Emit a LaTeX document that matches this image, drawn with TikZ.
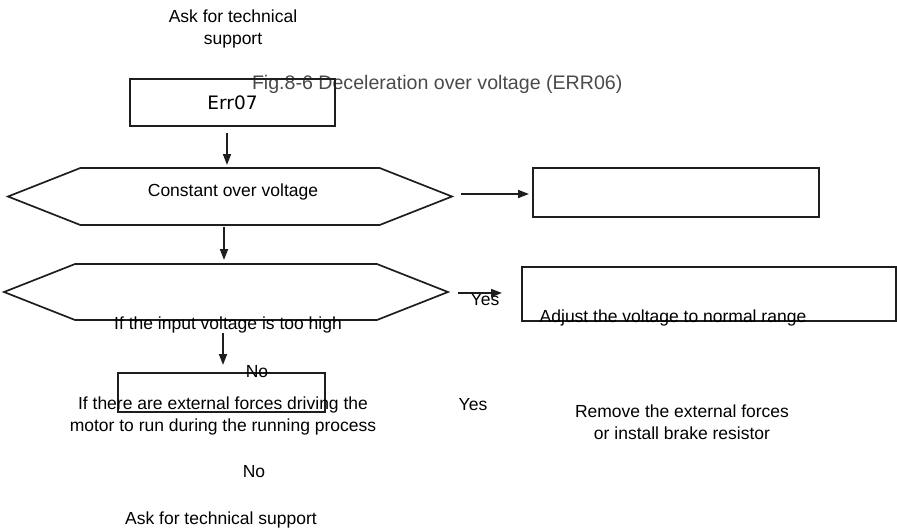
\documentclass[tikz,border=0pt]{standalone}
\usepackage{fontspec}
\setmainfont{Liberation Sans}
\newfontfamily\errfont{DejaVu Sans}
\usetikzlibrary{arrows.meta, positioning, shapes.symbols}
\definecolor{FigGray}{HTML}{4A4A4A}
\definecolor{LineDark}{HTML}{1E1E1E}

\begin{document}
\begin{tikzpicture}[x=1pt, y=-1pt, >={Triangle[length=11pt,width=8pt]},
    line width=1.7pt, draw=LineDark,
    every node/.style={font=\fontsize{17.5}{22}\selectfont, inner sep=0pt, outer sep=0pt},
    chkbox/.style={draw=LineDark, rectangle},
    testhex/.style={draw=LineDark, signal, signal to=west and east,
                    signal pointer angle=43},
    flow/.style={->, LineDark}]
  \useasboundingbox (0,0) rectangle (897,531);

  % texts outside the boxes
  \node[align=center] (askA) at (233,29) {Ask for technical\\support};
  \node[anchor=west, text=FigGray, font=\fontsize{19.6}{24}\selectfont] (fig) at (252,84)
    {Fig.8-6 Deceleration over voltage (ERR06)};

  % boxes and tests
  \node[chkbox, minimum width=205pt, minimum height=47pt,
        font=\errfont\fontsize{18.5}{22}\selectfont] (err) at (232.5,102.5) {Err07};
  \node[testhex, minimum width=444pt, minimum height=57pt] (hexA) at (230,196.5) {};
  \node (const) at (233,192) {Constant over voltage};
  \node[testhex, minimum width=444pt, minimum height=56pt] (hexB) at (226,292) {};
  \node[chkbox, minimum width=286pt, minimum height=49pt] (boxA) at (676,192.5) {};
  \node[chkbox, minimum width=374pt, minimum height=54pt] (boxB) at (709,294) {};
  \node[chkbox, minimum width=207pt, minimum height=39pt] (boxC) at (221.5,392.5) {};

  \node (adjust) at (673,318) {Adjust the voltage to normal range};
  \node (yesA) at (485,300) {Yes};
  \node (inputq) at (228,325) {If the input voltage is too high};
  \node (noA) at (257,372) {No};
  \node[align=center] (forceq) at (223,416)
    {If there are external forces driving the\\motor to run during the running process};
  \node (yesB) at (473,405) {Yes};
  \node[align=center] (remove) at (682,422)
    {Remove the external forces\\or install brake resistor};
  \node (noB) at (254,472) {No};
  \node (askB) at (221,520) {Ask for technical support};

  % connectors
  \draw[flow, shorten <=7pt, shorten >=3pt] ([xshift=-5.5pt]err.south) -- ([xshift=-3pt]hexA.north);
  \draw[flow, shorten <=2pt, shorten >=4pt] ([xshift=-6pt]hexA.south) -- ([xshift=-2pt]hexB.north);
  \draw[flow, shorten <=9pt, shorten >=4pt] ([yshift=2.5pt]hexA.east) -- ([yshift=2.5pt]hexA.east -| boxA.west);
  \draw[flow, shorten <=10pt, shorten >=20pt] ([yshift=-1pt]hexB.east) -- ([yshift=-1pt]hexB.east -| boxB.west);
  \draw[flow, shorten <=13pt, shorten >=8pt] ([xshift=-3pt]hexB.south) -- ([xshift=1.5pt]boxC.north);
\end{tikzpicture}
\end{document}
